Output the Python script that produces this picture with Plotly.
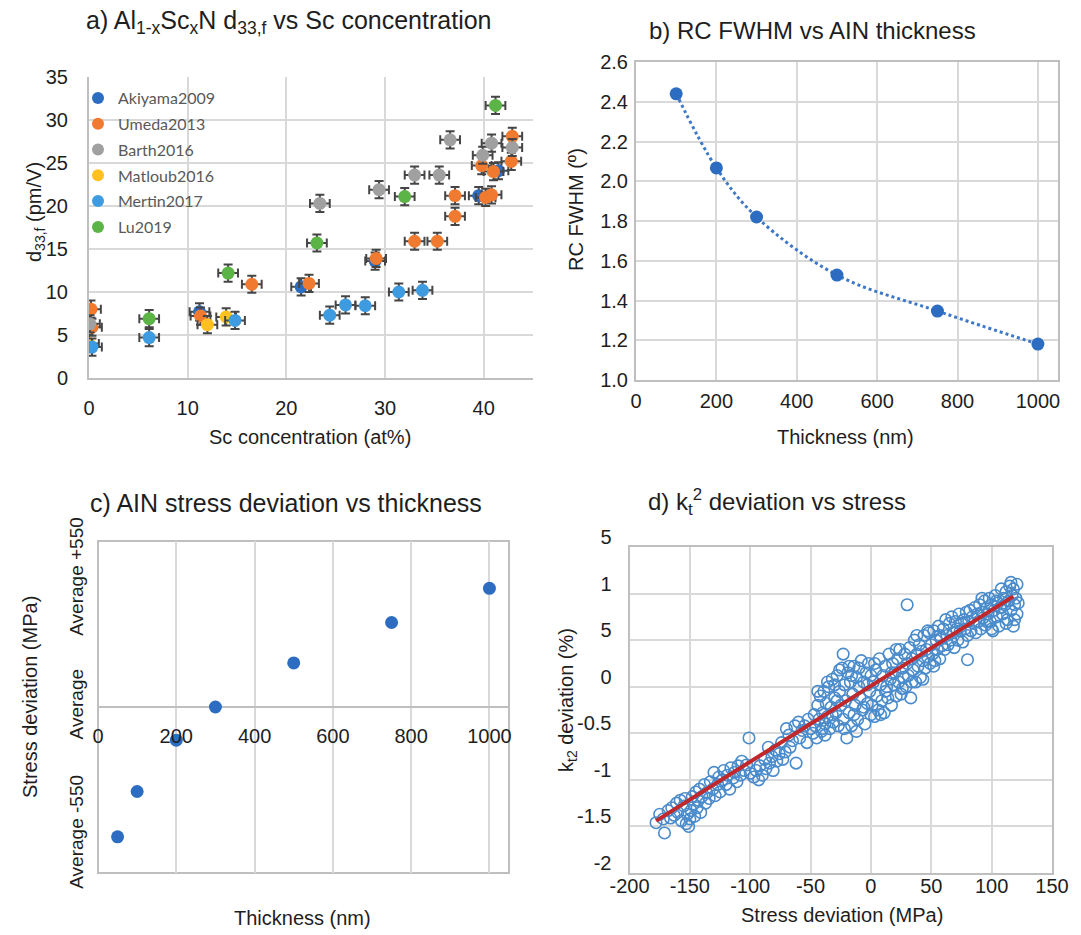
import plotly.graph_objects as go

W, H = 1081, 935
def fx(p):
    return p / W
def fy(p):
    return 1 - p / H

FONT = "Liberation Sans, Arial, sans-serif"
TXT = "#1e1e1e"
GRID = "#D9D9D9"
LINE = "#BFBFBF"

# ---------------- Panel a: d33,f vs Sc concentration ----------------
series_names = ["Akiyama2009", "Umeda2013", "Barth2016", "Matloub2016", "Mertin2017", "Lu2019"]
series_colors = ["#2C6DC2", "#F07A30", "#A0A0A0", "#FFC020", "#3E9BE0", "#5DB446"]

akiyama_x = [11.2, 21.5, 29.0, 39.5, 41.5]
akiyama_y = [7.7, 10.6, 13.6, 21.2, 24.1]
umeda_x = [0.2, 0.3, 11.3, 16.5, 22.3, 29.1, 33.0, 35.3, 37.1, 37.1, 40.2, 40.8, 39.8, 41.0, 42.8, 42.9]
umeda_y = [8.0, 5.9, 7.2, 10.9, 11.0, 13.9, 15.9, 15.9, 18.8, 21.2, 21.0, 21.3, 24.7, 24.0, 25.2, 28.1]
barth_x = [0.1, 23.4, 29.4, 33.0, 35.5, 36.6, 39.9, 40.8, 42.9]
barth_y = [6.3, 20.3, 21.9, 23.6, 23.6, 27.7, 25.9, 27.3, 26.8]
matloub_x = [0.0, 12.0, 13.9]
matloub_y = [4.0, 6.2, 7.1]
mertin_x = [0.3, 6.1, 14.8, 24.4, 26.0, 28.0, 31.4, 33.8]
mertin_y = [3.6, 4.7, 6.7, 7.3, 8.5, 8.4, 10.0, 10.2]
lu_x = [6.1, 14.1, 23.1, 32.0, 41.2]
lu_y = [6.9, 12.2, 15.7, 21.1, 31.7]
err_sc = 1.0
err_d33 = 1.0

series_x = [akiyama_x, umeda_x, barth_x, matloub_x, mertin_x, lu_x]
series_y = [akiyama_y, umeda_y, barth_y, matloub_y, mertin_y, lu_y]

# ---------------- Panel b: RC FWHM vs AlN thickness ----------------
b_thick = [100, 200, 300, 500, 750, 1000]
b_fwhm = [2.44, 2.067, 1.82, 1.528, 1.347, 1.181]

# ---------------- Panel c: stress deviation vs thickness ----------------
c_thick = [50, 100, 200, 300, 500, 750, 1000]
c_stress = [-559, -364, -143, 0, 190, 364, 511]
c_ticks = [-550, 0, 550]
c_ticktext = ["Average -550", "Average", "Average +550"]

# ---------------- Panel d: kt2 deviation vs stress ----------------
d_x = [
    -178, -175, -172, -171, -168, -166, -165, -163, -161, -160, -158, -157, -155, -154, -153, -152,
    -151, -150, -149, -148, -147, -146, -145, -144, -143, -142, -141, -140, -138, -137, -136,
    -134, -133, -131, -130, -129, -127, -126, -125, -123, -122, -120, -119, -117, -116, -114, -113,
    -111, -110, -108, -107, -105, -103, -101, -100,
    -97, -95, -93, -92, -90, -88, -87, -85, -84, -82, -81, -79, -78, -76, -74, -73, -71, -70, -68,
    -67, -65, -63, -62, -60, -59, -57, -55, -53, -52, -50,
    -48, -47, -46, -45, -44, -43, -42, -41, -40, -39, -38, -37, -36, -35, -34, -33, -32, -31, -30,
    -29, -28, -27, -26, -25, -24, -23, -23, -22, -21, -20, -19, -18, -17, -16, -15, -14, -13, -12,
    -11, -10, -9, -8, -7, -6, -5, -4, -3, -2, -1, 0, 0,
    -44, -40, -36, -32, -28, -26, -22, -18, -14, -10, -6, -3, -38, -30, -16, -12,
    1, 2, 3, 4, 5, 6, 7, 8, 9, 10, 11, 12, 13, 14, 15, 16, 17, 18, 19, 20, 21, 22, 23, 24, 25, 26,
    27, 28, 29, 30, 30, 31, 32, 33, 34, 35, 36, 37, 38, 39, 40, 41, 42, 43, 44, 45, 46, 47, 48, 49,
    50, 51, 52, 53, 54, 55, 56, 57, 58, 59, 60,
    3, 8, 12, 17, 21, 26, 34, 38, 43, 47, 52, 57,
    61, 62, 63, 64, 65, 66, 67, 68, 69, 70, 71, 72, 73, 74, 75, 76, 77, 78, 79, 80, 80, 81, 82, 83,
    84, 85, 86, 87, 88, 89, 90, 91, 92, 93, 94, 95, 96, 97, 98, 99, 100, 101, 102, 103, 104, 105,
    106, 107, 108, 109, 110, 111, 112, 113, 114, 115, 116, 117, 118, 118, 119, 120, 121, 121, 122,
    119, 116, 112, 108, 104, 100, 96, 92,
]
d_y = [
    -1.46, -1.37, -1.42, -1.57, -1.33, -1.41, -1.30, -1.38, -1.25, -1.35, -1.22, -1.44, -1.28, -1.20, -1.47, -1.37,
    -1.50, -1.42, -1.33, -1.18, -1.26, -1.39, -1.13, -1.30, -1.22, -1.10, -1.35, -1.18, -1.05, -1.25, -1.14,
    -1.20, -1.02, -1.10, -0.92, -1.17, -1.05, -0.97, -1.13, -1.00, -0.90, -1.05, -0.95, -1.10, -0.87, -0.98, -0.92,
    -1.02, -0.85, -0.95, -0.80, -0.90, -0.84, -0.55, -0.93,
    -0.97, -0.90, -1.00, -0.85, -0.95, -0.78, -0.88, -0.65, -0.82, -0.75, -0.90, -0.68, -0.80, -0.72, -0.60, -0.78, -0.70, -0.45, -0.52,
    -0.65, -0.58, -0.42, -0.82, -0.38, -0.55, -0.47, -0.42, -0.60, -0.35, -0.45,
    -0.50, -0.30, -0.42, -0.55, -0.20, -0.35, -0.10, -0.48, -0.28, -0.05, -0.40, -0.18, -0.32, 0.00, -0.45, -0.22, 0.08, -0.38, -0.12,
    -0.28, 0.12, -0.42, -0.05, -0.20, 0.20, 0.35, -0.35, 0.02, -0.15, -0.55, 0.15, -0.28, 0.05, -0.42, -0.08, 0.22, -0.20, 0.10,
    -0.35, 0.00, -0.12, 0.28, -0.25, 0.05, -0.40, 0.15, -0.18, 0.25, -0.05, -0.30, 0.12,
    -0.05, -0.45, 0.05, -0.30, -0.15, 0.18, -0.45, 0.22, -0.30, 0.20, -0.22, 0.02, -0.52, 0.02, 0.12, -0.48,
    -0.20, 0.05, -0.32, 0.18, -0.10, -0.25, 0.30, 0.02, -0.15, 0.12, -0.28, 0.22, 0.00, -0.12, 0.35, 0.08, -0.20, 0.25, 0.02, 0.15, -0.10, 0.30, 0.05, 0.40, -0.08, 0.20,
    0.10, 0.35, 0.00, 0.88, 0.25, 0.12, 0.42, -0.12, 0.30, 0.18, 0.50, 0.05, 0.35, 0.22, 0.45, 0.10, 0.38, 0.28, 0.55, 0.20, 0.40, 0.32, 0.58, 0.25,
    0.45, 0.35, 0.60, 0.28, 0.50, 0.40, 0.65, 0.30, 0.52, 0.44, 0.62,
    0.25, -0.30, -0.05, 0.15, 0.40, -0.02, 0.05, 0.55, 0.08, 0.60, 0.22, 0.55,
    0.40, 0.72, 0.55, 0.45, 0.68, 0.50, 0.75, 0.58, 0.42, 0.70, 0.62, 0.50, 0.78, 0.60, 0.68, 0.48, 0.72, 0.62, 0.80, 0.29, 0.55, 0.70, 0.82, 0.60,
    0.75, 0.68, 0.85, 0.58, 0.78, 0.70, 0.88, 0.62, 0.80, 0.74, 0.92, 0.66, 0.85, 0.78, 0.95, 0.70, 0.88, 0.60, 0.82, 0.98, 0.75, 0.90,
    0.65, 0.85, 1.05, 0.78, 0.95, 0.88, 1.02, 0.72, 0.92, 1.08, 0.82, 0.98, 0.65, 1.05, 0.88, 0.95, 0.78, 1.10, 0.90,
    0.72, 1.12, 0.68, 0.85, 0.92, 0.62, 0.70, 0.95,
]
d_trend_x = [-178, 118]
d_trend_y = [-1.44, 0.97]
d_xtick_vals = [-200, -150, -100, -50, 0, 50, 100, 150]
d_xtick_text = ["-200", "-150", "-100", "-50", "0", "50", "100", "150"]
d_ytick_vals = [-2, -1.5, -1, -0.5, 0, 0.5, 1, 1.5]
d_ytick_text = ["-2", "-1.5", "-1", "-0.5", "0", "5", "1", "5"]

fig = go.Figure()

# Panel a traces
for name, col, xs, ys in zip(series_names, series_colors, series_x, series_y):
    fig.add_trace(go.Scatter(
        x=xs, y=ys, mode="markers", name=name, xaxis="x", yaxis="y",
        marker=dict(size=13, color=col),
        error_x=dict(type="constant", value=err_sc, color="#454545", thickness=2, width=4.5),
        error_y=dict(type="constant", value=err_d33, color="#454545", thickness=2, width=4.5),
        legendgroup=name, showlegend=True,
    ))

# Panel b
fig.add_trace(go.Scatter(
    x=b_thick, y=b_fwhm, mode="lines+markers", xaxis="x2", yaxis="y2", showlegend=False,
    line=dict(color="#3D78C8", width=3, dash="dot", shape="spline"),
    marker=dict(size=13, color="#2C6DC2"),
))

# Panel c
fig.add_trace(go.Scatter(
    x=c_thick, y=c_stress, mode="markers", xaxis="x3", yaxis="y3", showlegend=False,
    marker=dict(size=13, color="#2C6DC2"),
))

# Panel d
fig.add_trace(go.Scatter(
    x=d_x, y=d_y, mode="markers", xaxis="x4", yaxis="y4", showlegend=False,
    marker=dict(size=11.5, color="rgba(0,0,0,0)", line=dict(color="#4A8BCB", width=1.6)),
))
fig.add_trace(go.Scatter(
    x=d_trend_x, y=d_trend_y, mode="lines", xaxis="x4", yaxis="y4", showlegend=False,
    line=dict(color="#C0282C", width=4),
))

tickfont = dict(family=FONT, size=20, color=TXT)
common = dict(showgrid=True, gridcolor=GRID, gridwidth=1.5, zeroline=False, ticks="",
              tickfont=tickfont, linecolor=LINE, linewidth=2, automargin=False)

fig.update_layout(
    template="none",
    width=W, height=H, margin=dict(l=0, r=0, t=0, b=0, autoexpand=False),
    paper_bgcolor="white", plot_bgcolor="white",
    font=dict(family=FONT, color=TXT),
    xaxis=dict(domain=[fx(89), fx(533)], range=[0, 45], tickvals=[0, 10, 20, 30, 40],
               anchor="y", showline=True, ticklabelstandoff=11, **common),
    yaxis=dict(domain=[fy(378), fy(77)], range=[0, 35], dtick=5, anchor="x",
               showline=True, ticklabelstandoff=15, **common),
    xaxis2=dict(domain=[fx(636), fx(1058)], range=[0, 1050], tickvals=[0, 200, 400, 600, 800, 1000],
                anchor="y2", showline=True, mirror=True, ticklabelstandoff=2, **common),
    yaxis2=dict(domain=[fy(380), fy(62)], range=[1.0, 2.6], dtick=0.2, tickformat=".1f",
                anchor="x2", showline=True, mirror=True, ticklabelstandoff=2, **common),
    xaxis3=dict(domain=[fx(98), fx(509)], range=[0, 1050], tickvals=[0, 200, 400, 600, 800, 1000],
                anchor="free", position=fy(707), showline=False, ticklabelstandoff=15, **common),
    yaxis3=dict(domain=[fy(873), fy(541)], range=[-715, 715], tickvals=c_ticks, ticktext=c_ticktext,
                tickangle=-90, anchor="x3", showline=False, automargin=False, ticklabelstandoff=10,
                showgrid=False, zeroline=True, zerolinecolor=LINE, zerolinewidth=2,
                ticks="", tickfont=dict(family=FONT, size=19, color=TXT)),
    xaxis4=dict(domain=[fx(629.5), fx(1052)], range=[-200, 150], tickvals=d_xtick_vals, ticktext=d_xtick_text,
                anchor="y4", showline=True, mirror=True, ticklabelstandoff=-6, **common),
    yaxis4=dict(domain=[fy(873), fy(547)], range=[-2, 1.5], tickvals=d_ytick_vals, ticktext=d_ytick_text,
                anchor="x4", showline=True, mirror=True, ticklabelshift=-10, ticklabelstandoff=12, **common),
    legend=dict(x=fx(78), y=fy(81), xanchor="left", yanchor="top", bgcolor="rgba(0,0,0,0)",
                font=dict(family="Lato, sans-serif", size=16, color="#595959"),
                tracegroupgap=2, itemsizing="constant"),
)

# white area behind the legend (hides the gridlines, as in the reference)
fig.add_shape(type="rect", xref="paper", yref="paper", x0=fx(104), x1=fx(240), y0=fy(244), y1=fy(84),
              line=dict(width=0), fillcolor="white", layer="between")

# box for panel c
fig.add_shape(type="rect", xref="x3 domain", yref="y3 domain", x0=0, x1=1, y0=0, y1=1,
              line=dict(color=LINE, width=2), layer="below")

def ann(text, x, y, size, angle=0):
    fig.add_annotation(text=text, x=fx(x), y=fy(y), xref="paper", yref="paper",
                       showarrow=False, textangle=angle, xanchor="center", yanchor="middle",
                       font=dict(family=FONT, size=size, color=TXT))

# titles
ann("a) Al<sub>1-x</sub>Sc<sub>x</sub>N d<sub>33,f</sub> vs Sc concentration", 289, 22, 25)
ann("b) RC FWHM vs AIN thickness", 812, 30, 24)
ann("c) AIN stress deviation vs thickness", 286, 503, 25)
ann("d) k<sub>t</sub><sup>2</sup> deviation vs stress", 777, 502, 24)

# axis titles
ann("d<sub>33,f</sub> (pm/V)", 35, 212, 20, -90)
ann("Sc concentration (at%)", 310, 437, 20)
ann("RC FWHM (º)", 576, 210, 20, -90)
ann("Thickness (nm)", 845, 437, 20)
ann("Stress deviation (MPa)", 30, 697, 20, -90)
ann("Thickness (nm)", 302, 918, 20)
ann("k<sub>t2</sub> deviation (%)", 567, 700, 20, -90)
ann("Stress deviation (MPa)", 842, 915, 20)

fig.write_html("out.html", config={"displayModeBar": False},
               post_script="document.body.style.margin='0';")
